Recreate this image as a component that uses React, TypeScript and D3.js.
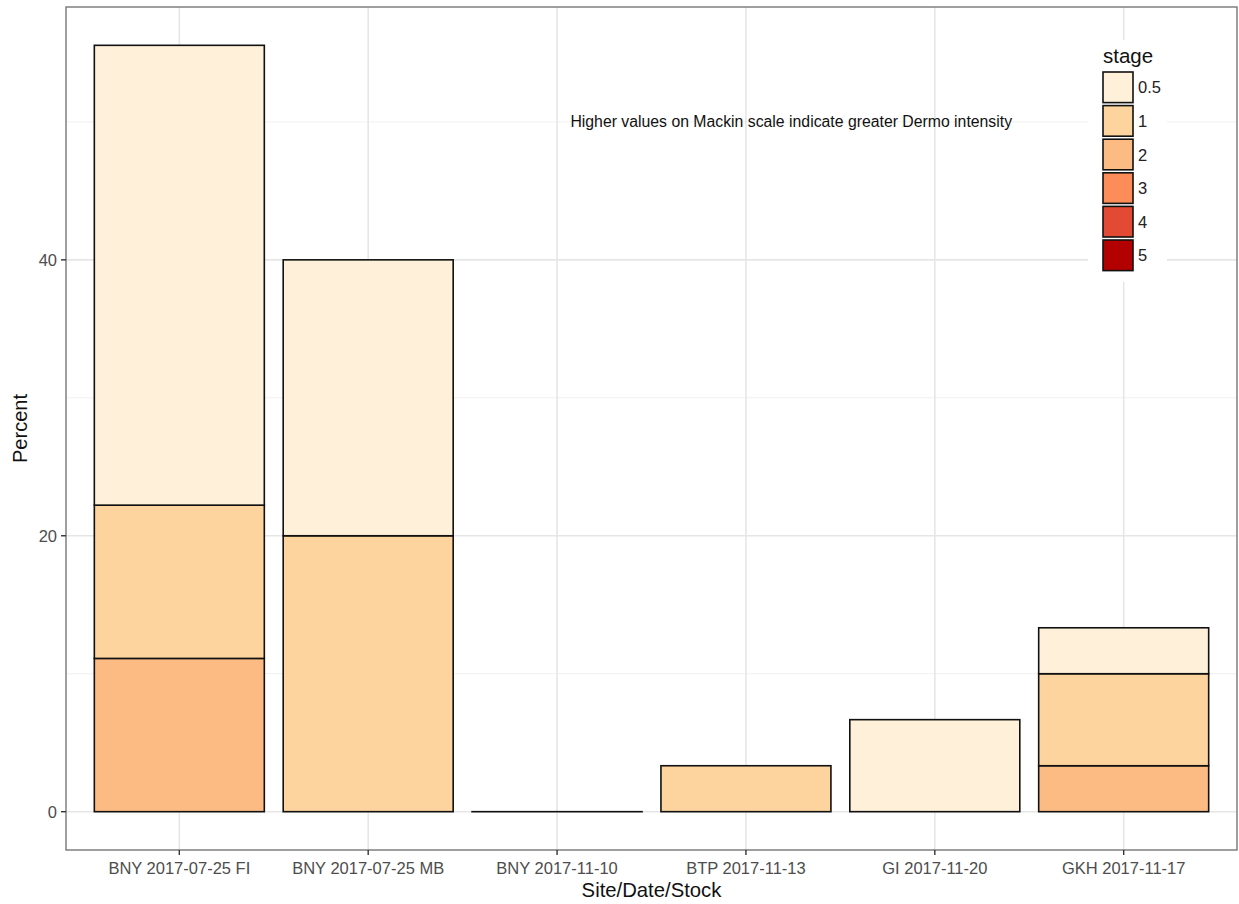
import * as d3 from 'd3';

// categories on the x axis
const categories = [
  "BNY 2017-07-25 FI",
  "BNY 2017-07-25 MB",
  "BNY 2017-11-10",
  "BTP 2017-11-13",
  "GI 2017-11-20",
  "GKH 2017-11-17",
];

// legend levels and colours (OrRd)
const stages = ["0.5", "1", "2", "3", "4", "5"];
const stageColors = ["#fef0d9", "#fdd49e", "#fdbb84", "#fc8d59", "#e34a33", "#b30000"];

// percent per stage, one value per category
const stage05 = [33.33, 20, 0, 0, 6.67, 3.33];
const stage1 = [11.11, 20, 0, 3.33, 0, 6.67];
const stage2 = [11.11, 0, 0, 0, 0, 3.33];
const stage3 = [0, 0, 0, 0, 0, 0];
const stage4 = [0, 0, 0, 0, 0, 0];
const stage5 = [0, 0, 0, 0, 0, 0];

const majorTicks = [0, 20, 40];
const minorTicks = [10, 30, 50];

const noteText = "Higher values on Mackin scale indicate greater Dermo intensity";
const noteY = 50;
const noteX = 3.24; // in category index units

const W = 1239;
const H = 904;
const margin = { top: 7, right: 2, bottom: 54, left: 66 };
const font = "Liberation Sans, Arial, Helvetica, sans-serif";

export default function App() {
  const series = [stage05, stage1, stage2, stage3, stage4, stage5];
  const rows = categories.map((c, i) => {
    const r: any = { cat: c };
    stages.forEach((s, j) => (r[s] = series[j][i]));
    return r;
  });
  // ggplot stacks first level on top, so stack from the last level upward
  const stacked = d3.stack<any>().keys([...stages].reverse())(rows);
  const totals = rows.map((r) => d3.sum(stages, (s) => r[s]));
  const maxTotal = d3.max(totals) || 0;
  const pad = maxTotal * 0.05;

  const x0 = margin.left;
  const x1 = W - margin.right;
  const y0 = margin.top;
  const y1 = H - margin.bottom;

  const x = d3.scaleBand<string>().domain(categories).range([x0, x1]).paddingInner(0.1).paddingOuter(0.15);
  const y = d3.scaleLinear().domain([-pad, maxTotal + pad]).range([y1, y0]);
  const center = (c: string) => (x(c) || 0) + x.bandwidth() / 2;
  const step = x.step();
  const noteCx = x0 + step * (0.6 + noteX);

  const legX = 1103;
  const legY = 72;
  const keyH = 33.6;

  return (
    <svg width={W} height={H} style={{ position: "absolute", left: 0, top: 0, background: "#fff" }} fontFamily={font}>
      <rect x={0} y={0} width={W} height={H} fill="#fff" />
      {/* grid */}
      {minorTicks.map((t) => (
        <line key={"mn" + t} x1={x0} x2={x1} y1={y(t)} y2={y(t)} stroke="#f0f0f0" strokeWidth={1} />
      ))}
      {majorTicks.map((t) => (
        <line key={"mj" + t} x1={x0} x2={x1} y1={y(t)} y2={y(t)} stroke="#e6e6e6" strokeWidth={1.6} />
      ))}
      {categories.map((c) => (
        <line key={"vg" + c} x1={center(c)} x2={center(c)} y1={y0} y2={y1} stroke="#e6e6e6" strokeWidth={1.6} />
      ))}

      {/* bars */}
      {stacked.map((layer) => {
        const ci = stages.indexOf(layer.key);
        return layer.map((d, i) => {
          const v = d[1] - d[0];
          if (v <= 0 && !(totals[i] === 0 && ci === 0)) return null;
          return (
            <rect
              key={layer.key + "-" + i}
              x={x(categories[i])}
              y={y(d[1])}
              width={x.bandwidth()}
              height={Math.max(0.01, y(d[0]) - y(d[1]))}
              fill={stageColors[ci]}
              stroke="#111"
              strokeWidth={1.6}
            />
          );
        });
      })}

      {/* annotation */}
      <text x={noteCx} y={y(noteY)} textAnchor="middle" dominantBaseline="central" fontSize={15.8} fill="#111">
        {noteText}
      </text>

      {/* legend */}
      <rect x={1088} y={40} width={79} height={242} fill="#fff" />
      <text x={legX} y={legY - 9} fontSize={20.5} fill="#111">stage</text>
      {stages.map((s, i) => (
        <g key={"lg" + s}>
          <rect x={legX} y={legY + i * keyH} width={30} height={keyH - 3} fill={stageColors[i]} stroke="#111" strokeWidth={1.6} />
          <text x={legX + 35} y={legY + i * keyH + (keyH - 3) / 2} dominantBaseline="central" fontSize={16.5} fill="#222">
            {s}
          </text>
        </g>
      ))}

      {/* panel border */}
      <rect x={x0} y={y0} width={x1 - x0} height={y1 - y0} fill="none" stroke="#777" strokeWidth={1.4} />

      {/* y axis */}
      {majorTicks.map((t) => (
        <g key={"yt" + t}>
          <line x1={x0 - 5} x2={x0} y1={y(t)} y2={y(t)} stroke="#333" strokeWidth={1.4} />
          <text x={x0 - 9} y={y(t)} textAnchor="end" dominantBaseline="central" fontSize={16.5} fill="#4d4d4d">
            {t}
          </text>
        </g>
      ))}
      <text
        transform={`translate(20,${(y0 + y1) / 2}) rotate(-90)`}
        textAnchor="middle"
        dominantBaseline="central"
        fontSize={20}
        fill="#111"
      >
        Percent
      </text>

      {/* x axis */}
      {categories.map((c) => (
        <g key={"xt" + c}>
          <line x1={center(c)} x2={center(c)} y1={y1} y2={y1 + 5} stroke="#333" strokeWidth={1.4} />
          <text x={center(c)} y={y1 + 18} textAnchor="middle" dominantBaseline="central" fontSize={16.5} fill="#4d4d4d">
            {c}
          </text>
        </g>
      ))}
      <text x={(x0 + x1) / 2} y={y1 + 40} textAnchor="middle" dominantBaseline="central" fontSize={20.3} fill="#111">
        Site/Date/Stock
      </text>
    </svg>
  );
}
